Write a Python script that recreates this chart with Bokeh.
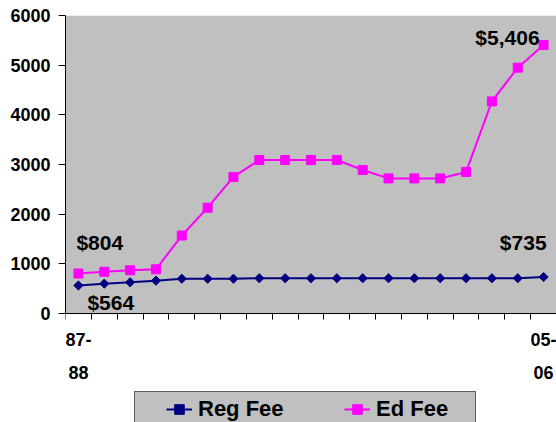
import numpy as np
from bokeh.plotting import figure
from bokeh.models import (Range1d, FixedTicker, Legend, LegendItem, ColumnDataSource,
                          BoxAnnotation)
from bokeh.core.properties import value
from bokeh.embed import file_html
from bokeh.resources import INLINE

# ---- data ----
years = ["87-88", "88-89", "89-90", "90-91", "91-92", "92-93", "93-94", "94-95",
         "95-96", "96-97", "97-98", "98-99", "99-00", "00-01", "01-02", "02-03",
         "03-04", "04-05", "05-06"]
reg_fee = [564, 600, 628, 660, 700, 700, 700, 710, 710, 710, 710, 710, 710, 710,
           710, 710, 710, 710, 735]
ed_fee = [804, 840, 870, 890, 1570, 2130, 2750, 3090, 3090, 3090, 3090, 2890,
          2720, 2720, 2720, 2850, 4270, 4950, 5406]
y_ticks = [0, 1000, 2000, 3000, 4000, 5000, 6000]
series_names = ["Reg Fee", "Ed Fee"]

FONT = "Liberation Sans"
REG_COLOR = "#000080"
ED_COLOR = "#FF00FF"
PLOT_BG = "#C0C0C0"
n = len(years)
x = list(range(n))

# layout (pixels)
W, H = 556, 422
LEFT, TOP = 65, 15          # plot-area left / top edge
AREA_H = 298                # height of the 0..6000 plot area
below_px = H - TOP - AREA_H  # space under the plot area (labels + legend)
y_lo = y_ticks[0] - below_px * (y_ticks[-1] - y_ticks[0]) / AREA_H

p = figure(width=W, height=H,
           x_range=Range1d(-0.5, n - 0.5), y_range=Range1d(y_lo, y_ticks[-1]),
           output_backend="svg", toolbar_location=None,
           min_border_left=LEFT, min_border_right=0, min_border_top=TOP, min_border_bottom=0)
p.background_fill_color = "white"
p.border_fill_color = "white"
p.outline_line_color = None

# grey plot area
p.add_layout(BoxAnnotation(bottom=y_ticks[0], top=y_ticks[-1], fill_color=PLOT_BG,
                           fill_alpha=1, line_color=None, level="underlay"))

r1 = p.line(x, reg_fee, line_color=REG_COLOR, line_width=2)
s1 = p.scatter(x, reg_fee, marker="square", angle=np.pi / 4, size=6.5,
               fill_color=REG_COLOR, line_color=REG_COLOR)
r2 = p.line(x, ed_fee, line_color=ED_COLOR, line_width=2)
s2 = p.scatter(x, ed_fee, marker="square", size=9, fill_color=ED_COLOR, line_color=ED_COLOR)

# value labels at first / last points
lab = ColumnDataSource(dict(
    x=[0, 0, n - 1, n - 1],
    y=[ed_fee[0], reg_fee[0], reg_fee[-1], ed_fee[-1]],
    text=[f"${v:,}" for v in (ed_fee[0], reg_fee[0], reg_fee[-1], ed_fee[-1])],
    align=["left", "left", "right", "right"],
    xo=[-2, 9, 3, -4],
    yo=[-31, 17, -34, -8],
))
p.text(x="x", y="y", text="text", text_align="align", x_offset="xo", y_offset="yo",
       text_baseline="middle", text_font=value(FONT), text_font_style="bold",
       text_font_size="21px", text_color="black", source=lab)

xa = p.xaxis[0]
xa.fixed_location = y_ticks[0]
xa.ticker = FixedTicker(ticks=[0, n - 1], minor_ticks=[i - 0.5 for i in range(n + 1)])
xa.major_label_overrides = {0: years[0].replace("-", "-\n"), n - 1: years[-1].replace("-", "-\n")}
xa.major_tick_out = 0
xa.major_tick_in = 0
xa.minor_tick_out = 6
xa.minor_tick_in = 0
xa.minor_tick_line_color = "black"
xa.axis_line_color = "black"
xa.major_label_standoff = 10
xa.major_label_text_font = FONT
xa.major_label_text_font_style = "bold"
xa.major_label_text_font_size = "18px"
xa.major_label_text_color = "black"
xa.major_label_text_line_height = 1.65

ya = p.yaxis[0]
ya.bounds = (y_ticks[0], y_ticks[-1])
ya.ticker = FixedTicker(ticks=y_ticks)
ya.major_tick_out = 7
ya.major_tick_in = 0
ya.minor_tick_line_color = None
ya.axis_line_color = "black"
ya.major_tick_line_color = "black"
ya.major_label_standoff = 8
ya.major_label_text_font = FONT
ya.major_label_text_font_style = "bold"
ya.major_label_text_font_size = "18px"
ya.major_label_text_color = "black"

p.xgrid.visible = False
p.ygrid.grid_line_color = "black"
p.ygrid.grid_line_width = 1

legend = Legend(items=[LegendItem(label=value(series_names[0]), renderers=[r1, s1]),
                       LegendItem(label=value(series_names[1]), renderers=[r2, s2])],
                orientation="horizontal", location=(69, -5), padding=4, margin=0,
                spacing=51, glyph_width=26, glyph_height=24, label_height=24,
                label_standoff=6, label_width=95,
                title=" ", title_location="left", title_standoff=26,
                title_text_font_size="1px",
                border_line_color="black", border_line_width=1,
                background_fill_color=PLOT_BG, background_fill_alpha=1,
                label_text_font=FONT, label_text_font_style="bold",
                label_text_font_size="22px", label_text_color="black")
p.add_layout(legend)

open("out.html", "w").write(file_html(p, INLINE))
